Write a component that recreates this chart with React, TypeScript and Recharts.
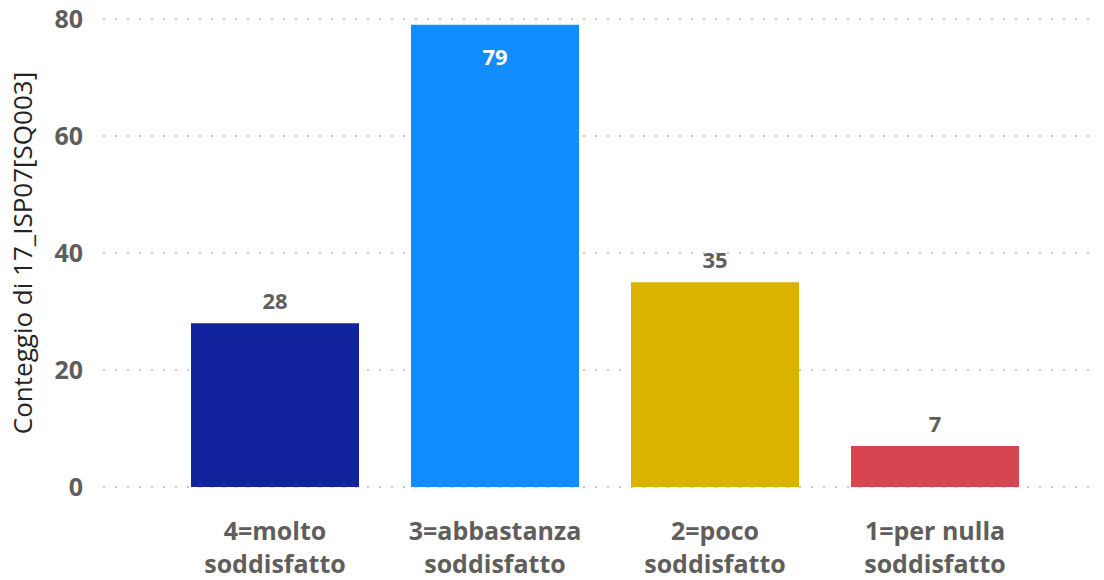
import { BarChart, Bar, XAxis, YAxis, CartesianGrid, Cell, LabelList, Label } from "recharts";

const categories = [
  "4=molto soddisfatto",
  "3=abbastanza soddisfatto",
  "2=poco soddisfatto",
  "1=per nulla soddisfatto",
];
const counts = [28, 79, 35, 7];
const colors = ["#12239E", "#118DFF", "#D9B300", "#D64550"];
const yTicks = [0, 20, 40, 60, 80];
const yTitle = "Conteggio di 17_ISP07[SQ003]";

const FONT = "'Segoe UI', 'Open Sans', 'Noto Sans', sans-serif";

const data = categories.map((name, i) => ({ name, value: counts[i] }));

function CategoryTick(props: any) {
  const { x, y, payload } = props;
  const text: string = payload.value;
  const cut = text.lastIndexOf(" ");
  const lines = [text.slice(0, cut), text.slice(cut + 1)];
  return (
    <g>
      {lines.map((ln, i) => (
        <text
          key={i}
          x={x}
          y={y + 45 + i * 33}
          textAnchor="middle"
          fill="#605E5C"
          fontSize={25}
          fontWeight={700}
          fontFamily={FONT}
        >
          {ln}
        </text>
      ))}
    </g>
  );
}

function ValueLabel(props: any) {
  const { x, y, width, value } = props;
  // tall bar: label goes inside, in white
  const inside = value > 70;
  return (
    <text
      x={x + width / 2}
      y={inside ? y + 40 : y - 14}
      textAnchor="middle"
      fill={inside ? "#ffffff" : "#605E5C"}
      fontSize={22}
      fontWeight={700}
      fontFamily={FONT}
    >
      {value}
    </text>
  );
}

export default function App() {
  return (
    <div style={{ position: "absolute", left: 0, top: 0, background: "#fff" }}>
      <BarChart
        width={1104}
        height={580}
        data={data}
        margin={{ top: 19, right: 9, bottom: 0, left: 0 }}
      >
        <CartesianGrid
          vertical={false}
          stroke="#C8C8C8"
          strokeWidth={2}
          strokeDasharray="2 10"
        />
        <XAxis
          dataKey="name"
          axisLine={false}
          tickLine={false}
          height={93}
          interval={0}
          padding={{ left: 62, right: 50 }}
          tick={<CategoryTick />}
        />
        <YAxis
          width={103}
          domain={[0, 80]}
          ticks={yTicks}
          axisLine={false}
          tickLine={false}
          tickSize={0}
          tickMargin={20}
          tick={{ fill: "#605E5C", fontSize: 25, fontWeight: 700, fontFamily: FONT }}
        >
          <Label
            value={yTitle}
            angle={-90}
            position="insideLeft"
            offset={0}
            dx={23}
            style={{ textAnchor: "middle", fill: "#252423", fontSize: 26, fontFamily: FONT }}
          />
        </YAxis>
        <Bar dataKey="value" barSize={168} isAnimationActive={false}>
          {data.map((d, i) => (
            <Cell key={d.name} fill={colors[i]} />
          ))}
          <LabelList dataKey="value" content={<ValueLabel />} />
        </Bar>
      </BarChart>
    </div>
  );
}
